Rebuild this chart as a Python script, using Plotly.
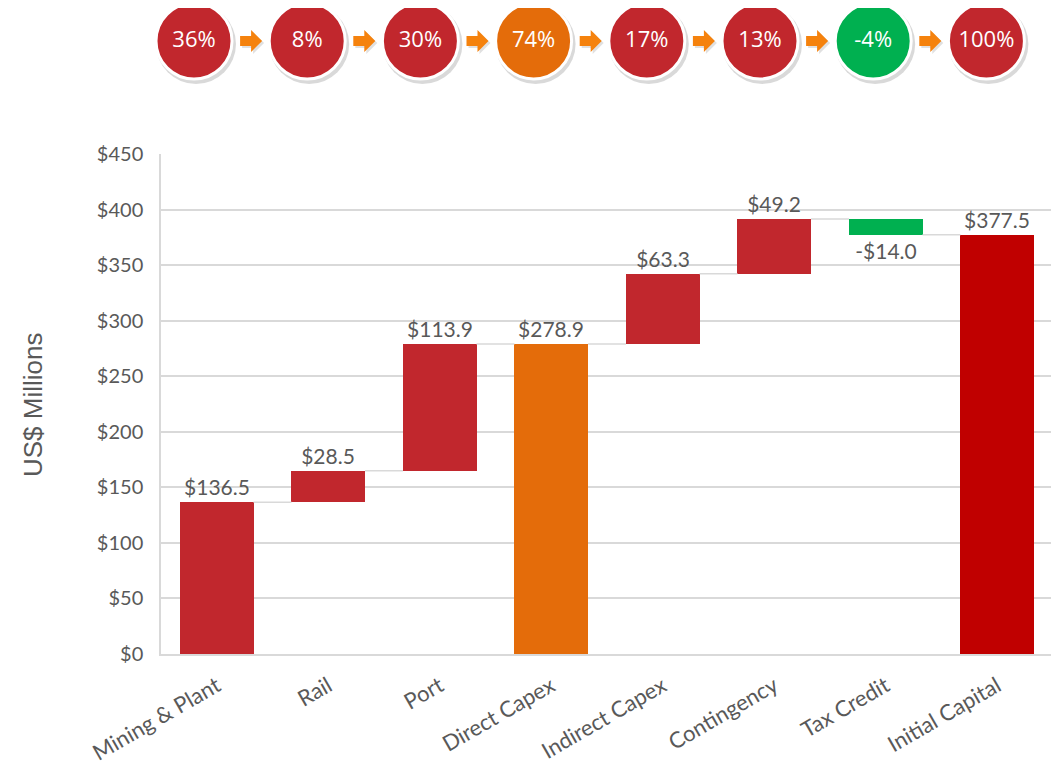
import plotly.graph_objects as go

# ---------------- data ----------------
categories = ["Mining & Plant", "Rail", "Port", "Direct Capex",
              "Indirect Capex", "Contingency", "Tax Credit", "Initial Capital"]
values = [136.5, 28.5, 113.9, 278.9, 63.3, 49.2, -14.0, 377.5]
is_total = [False, False, False, True, False, False, False, True]
bar_colors = ["#C1272D", "#C1272D", "#C1272D", "#E46C0A",
              "#C1272D", "#C1272D", "#00B050", "#C00000"]
shares = ["36%", "8%", "30%", "74%", "17%", "13%", "-4%", "100%"]
share_colors = ["#C1272D", "#C1272D", "#C1272D", "#E46C0A",
                "#C1272D", "#C1272D", "#00B050", "#C1272D"]
y_ticks = [0, 50, 100, 150, 200, 250, 300, 350, 400, 450]
y_tick_text = ["$%d" % t for t in y_ticks]

# ---------------- waterfall geometry from data ----------------
bases, ys, ends = [], [], []
running = 0.0
for v, tot in zip(values, is_total):
    if tot:
        bases.append(0.0)
        ys.append(v)
        running = v
    else:
        bases.append(running)
        ys.append(v)
        running = running + v
    ends.append(running)

def fmt(v):
    return ("-$%.1f" % abs(v)) if v < 0 else ("$%.1f" % v)

labels = [fmt(v) for v in values]
xs = list(range(len(categories)))
BW = 0.66

GRAY = "#595959"
GRID = "#D9D9D9"
FONT = "Lato"

fig = go.Figure()

# connectors
cx, cy = [], []
for i in range(len(categories) - 1):
    cx += [xs[i] + BW / 2, xs[i + 1] - BW / 2, None]
    cy += [ends[i], ends[i], None]
fig.add_trace(go.Scatter(x=cx, y=cy, mode="lines",
                         line=dict(color=GRID, width=1.5),
                         hoverinfo="skip", showlegend=False))

fig.add_trace(go.Bar(
    x=xs, y=ys, base=bases, width=BW,
    marker=dict(color=bar_colors, line=dict(width=0)),
    text=labels, textposition="outside", cliponaxis=False,
    constraintext="none",
    textfont=dict(family=FONT, size=21, color=GRAY),
    showlegend=False,
))

# ---------------- layout geometry (page has an 8px body margin) ----------------
OFF = 8
W, H = 1059 - OFF, 766 - OFF
X_LEFT, X_RIGHT = 161, 1053      # screen px of plot area
Y_TOP, Y_BOT = 154, 654          # screen px of main axis top / bottom
PL = X_LEFT - OFF
PR = W - (X_RIGHT - OFF)
PB = H - (Y_BOT - OFF)
plot_h = Y_BOT - OFF             # top margin 0

# top share circles in screen-pixel axes
circ_x = [194 + 113.2 * i for i in range(len(shares))]
circ_y = [Y_BOT - 41] * len(shares)

fig.add_trace(go.Scatter(
    x=[c + 2 for c in circ_x], y=[c - 3 for c in circ_y], mode="markers",
    marker=dict(size=80, color="rgba(0,0,0,0.15)", line=dict(width=0)),
    xaxis="x2", yaxis="y2", hoverinfo="skip", showlegend=False, cliponaxis=False))
fig.add_trace(go.Scatter(
    x=circ_x, y=circ_y, mode="markers+text", text=shares,
    textposition="middle center",
    textfont=dict(family="Open Sans", size=22, color="white"),
    marker=dict(size=76, color=share_colors, line=dict(color="white", width=3)),
    xaxis="x2", yaxis="y2", hoverinfo="skip", showlegend=False, cliponaxis=False))

shapes = []
for i in range(len(shares) - 1):
    ax = (circ_x[i] + circ_x[i + 1]) / 2 + 0.5
    ay = circ_y[0]
    def arrow(dx, dy):
        pts = [(-11, 5), (0, 5), (0, 11), (11, 0), (0, -11), (0, -5), (-11, -5)]
        return "M " + " L ".join("%.1f,%.1f" % (ax + px + dx, ay + py + dy) for px, py in pts) + " Z"
    shapes.append(dict(type="path", xref="x2", yref="y2", path=arrow(2, -2),
                       fillcolor="rgba(0,0,0,0.12)", line=dict(width=0)))
    shapes.append(dict(type="path", xref="x2", yref="y2", path=arrow(0, 0),
                       fillcolor="#F5820D", line=dict(width=0)))

fig.update_layout(
    width=W, height=H,
    margin=dict(l=PL, r=PR, t=0, b=PB, pad=0, autoexpand=False),
    paper_bgcolor="white", plot_bgcolor="rgba(0,0,0,0)",
    bargap=0,
    shapes=shapes,
    xaxis=dict(tickmode="array", tickvals=xs, ticktext=categories,
               range=[-0.5, len(categories) - 0.5], tickangle=-30,
               tickfont=dict(family=FONT, size=22, color=GRAY),
               showgrid=False, zeroline=False, showline=True, automargin=False,
               linecolor=GRID, linewidth=1.5, ticks="", ticklabelstandoff=9,
               anchor="y"),
    yaxis=dict(range=[0, 450], tickmode="array", tickvals=y_ticks,
               ticktext=y_tick_text,
               domain=[0, (Y_BOT - Y_TOP) / plot_h], automargin=False,
               tickfont=dict(family=FONT, size=20, color=GRAY),
               showgrid=True, gridcolor=GRID, gridwidth=1.5,
               zeroline=False, showline=True, linecolor=GRID, linewidth=1.5,
               ticks="", ticklabelstandoff=12, anchor="x"),
    xaxis2=dict(range=[X_LEFT, X_RIGHT], domain=[0, 1], visible=False,
                fixedrange=True, anchor="y2"),
    yaxis2=dict(range=[0, plot_h], domain=[0, 1], visible=False,
                fixedrange=True, anchor="x2"),
    annotations=[dict(text="US$ Millions", xref="paper", yref="paper",
                      x=(33 - X_LEFT) / (X_RIGHT - X_LEFT),
                      y=(Y_BOT - 405) / plot_h,
                      xanchor="center", yanchor="middle", textangle=-90,
                      showarrow=False,
                      font=dict(family="Liberation Sans", size=26, color=GRAY))],
)

fig.write_html("out.html")
